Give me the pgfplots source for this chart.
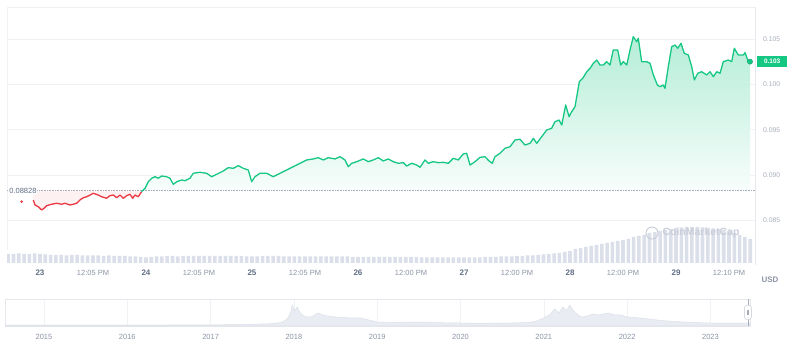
\documentclass[border=0pt]{standalone}
\usepackage{fontspec}
\setmainfont{Liberation Sans}
\usepackage{pgfplots}
\pgfplotsset{compat=1.18}
\usepackage{pgfplotstable}
\definecolor{cmcgreen}{HTML}{16C784}
\definecolor{cmcred}{HTML}{EA3943}
\definecolor{labgray}{HTML}{616E85}
\definecolor{timegray}{HTML}{8C94A5}
\definecolor{ticklight}{HTML}{A6ADBA}
\definecolor{gridc}{HTML}{F1F2F5}
\definecolor{framec}{HTML}{E6E8ED}
\definecolor{volc}{HTML}{DADFE9}
\definecolor{navfill}{HTML}{E9ECF2}
\definecolor{navline}{HTML}{DCE0E8}
\definecolor{wmark}{HTML}{C9CED8}

% price, first part (below the opening price)
\pgfplotstableread{
d v
-0.063 0.08724
-0.047 0.08669
-0.016 0.08650
0.016 0.08614
0.038 0.08632
0.063 0.08661
0.110 0.08677
0.158 0.08688
0.205 0.08677
0.236 0.08688
0.283 0.08669
0.314 0.08677
0.346 0.08688
0.377 0.08724
0.408 0.08749
0.441 0.08760
0.472 0.08779
0.503 0.08798
0.550 0.08779
0.582 0.08760
0.629 0.08743
0.660 0.08772
0.692 0.08779
0.724 0.08749
0.755 0.08779
0.786 0.08743
0.818 0.08772
0.849 0.08787
0.875 0.08743
0.896 0.08779
0.927 0.08760
0.959 0.08816
}\reddata

% price, second part (above the opening price)
\pgfplotstableread{
d v
0.959 0.08816
0.991 0.08853
1.022 0.08926
1.054 0.08964
1.085 0.08981
1.116 0.08964
1.148 0.08989
1.195 0.08981
1.226 0.08964
1.258 0.08897
1.290 0.08926
1.337 0.08945
1.368 0.08937
1.415 0.08964
1.446 0.09019
1.509 0.09030
1.573 0.09019
1.620 0.08981
1.667 0.09008
1.729 0.09044
1.776 0.09081
1.824 0.09074
1.871 0.09103
1.918 0.09074
1.965 0.09055
1.997 0.08926
2.028 0.08981
2.075 0.09019
2.139 0.09019
2.201 0.08981
2.264 0.09019
2.327 0.09055
2.390 0.09092
2.453 0.09129
2.516 0.09166
2.578 0.09177
2.625 0.09191
2.673 0.09166
2.720 0.09191
2.783 0.09177
2.830 0.09202
2.877 0.09166
2.908 0.09092
2.941 0.09129
2.988 0.09147
3.050 0.09177
3.097 0.09147
3.144 0.09166
3.192 0.09191
3.239 0.09155
3.286 0.09177
3.333 0.09147
3.380 0.09129
3.427 0.09136
3.459 0.09099
3.507 0.09129
3.554 0.09110
3.585 0.09085
3.632 0.09166
3.663 0.09129
3.710 0.09147
3.758 0.09136
3.805 0.09140
3.852 0.09129
3.899 0.09184
3.946 0.09166
3.993 0.09232
4.025 0.09240
4.057 0.09110
4.104 0.09147
4.151 0.09195
4.198 0.09202
4.236 0.09155
4.267 0.09129
4.292 0.09202
4.340 0.09240
4.387 0.09295
4.434 0.09312
4.481 0.09386
4.528 0.09394
4.575 0.09331
4.623 0.09350
4.654 0.09405
4.686 0.09350
4.733 0.09423
4.780 0.09497
4.827 0.09515
4.858 0.09588
4.896 0.09607
4.922 0.09552
4.959 0.09773
4.991 0.09644
5.016 0.09699
5.047 0.09754
5.088 0.10030
5.120 0.10067
5.158 0.10140
5.189 0.10178
5.220 0.10233
5.252 0.10269
5.283 0.10214
5.314 0.10214
5.346 0.10251
5.377 0.10214
5.408 0.10380
5.450 0.10380
5.478 0.10214
5.503 0.10251
5.535 0.10214
5.566 0.10380
5.597 0.10527
5.629 0.10471
5.644 0.10509
5.676 0.10251
5.723 0.10251
5.755 0.10233
5.786 0.10104
5.824 0.09993
5.849 0.09975
5.880 0.09993
5.896 0.09957
5.927 0.10195
5.959 0.10416
5.991 0.10435
6.016 0.10399
6.047 0.10454
6.078 0.10343
6.116 0.10325
6.148 0.10195
6.173 0.10049
6.205 0.10123
6.242 0.10140
6.290 0.10104
6.321 0.10140
6.352 0.10085
6.384 0.10140
6.415 0.10123
6.446 0.10251
6.493 0.10269
6.525 0.10251
6.550 0.10399
6.587 0.10325
6.635 0.10325
6.651 0.10350
6.682 0.10251
6.698 0.10251
}\greendata

% volume (relative units)
\pgfplotstableread{
d h
-0.30 9
-0.25 9
-0.20 9.5
-0.15 9
-0.10 9
-0.05 9.5
0.00 9
0.05 8.5
0.10 8
0.15 8
0.20 8
0.25 7.5
0.30 8
0.35 8
0.40 7.5
0.45 7.5
0.50 7.5
0.55 7.5
0.60 7
0.65 7.5
0.70 7
0.75 7
0.80 7
0.85 6.5
0.90 6.5
0.95 6
1.00 5.5
1.05 6
1.10 6.5
1.15 6.5
1.20 7
1.25 7
1.30 6.5
1.35 7
1.40 7
1.45 7
1.50 7
1.55 7
1.60 7
1.65 7
1.70 7
1.75 7
1.80 7
1.85 7
1.90 7
1.95 6.5
2.00 6.5
2.05 6.5
2.10 7
2.15 7
2.20 7
2.25 7
2.30 6.5
2.35 6.5
2.40 6.5
2.45 6.5
2.50 6.5
2.55 6.5
2.60 6.5
2.65 6.5
2.70 6.5
2.75 6.5
2.80 6.5
2.85 6.5
2.90 6.5
2.95 6
3.00 6
3.05 6
3.10 6
3.15 6
3.20 6
3.25 6
3.30 6
3.35 6
3.40 6
3.45 6
3.50 6
3.55 6
3.60 5.5
3.65 5.5
3.70 5.5
3.75 5.5
3.80 5.5
3.85 5.5
3.90 5.5
3.95 5.5
4.00 5.5
4.05 5.5
4.10 5.5
4.15 5.5
4.20 6
4.25 6
4.30 6
4.35 6.5
4.40 6.5
4.45 6.5
4.50 7
4.55 7
4.60 7.5
4.65 7.5
4.70 8
4.75 8.5
4.80 9
4.85 9.5
4.90 10
4.95 11
5.00 12
5.05 14
5.10 15
5.15 16
5.20 17
5.25 18
5.30 19
5.35 20
5.40 21
5.45 22
5.50 23
5.55 24
5.60 26
5.65 27
5.70 28
5.75 30
5.80 31
5.85 32
5.90 33
5.95 34
6.00 35
6.05 35.5
6.10 36
6.15 36
6.20 36
6.25 35.5
6.30 35
6.35 34.5
6.40 34
6.45 33
6.50 32
6.55 30
6.60 28
6.65 26
6.70 24
}\voldata

% long-range navigator (relative units)
\pgfplotstableread{
y h
2014.532 0.8
2015.0 0.8
2015.5 0.9
2016.0 0.9
2016.5 1.0
2017.0 1.1
2017.3 1.4
2017.5 1.8
2017.7 2.2
2017.85 3.5
2017.92 7
2017.96 13
2017.98 21
2018.01 15
2018.04 19
2018.07 14
2018.1 11
2018.15 9
2018.2 9
2018.25 11
2018.29 13
2018.35 11
2018.4 10
2018.5 9
2018.6 8.5
2018.7 8
2018.8 8
2018.9 6
2019.0 4
2019.2 3.5
2019.4 4
2019.6 3.8
2019.8 3.2
2020.0 3
2020.2 2.6
2020.4 2.8
2020.6 3
2020.8 3.5
2020.9 4.5
2021.0 8
2021.08 12
2021.13 17
2021.18 13
2021.23 19
2021.27 15
2021.31 21
2021.36 15
2021.41 11
2021.46 9
2021.52 10
2021.59 12
2021.65 11
2021.71 12
2021.77 13
2021.85 11
2021.92 11
2022.0 9
2022.1 8.5
2022.2 7.5
2022.27 7
2022.4 5.5
2022.5 5
2022.67 4
2022.8 3.5
2023.0 3
2023.2 2.8
2023.475 3
}\navdata

\begin{document}
\begin{tikzpicture}
\path[use as bounding box] (0pt,0pt) rectangle (800pt,353pt);

% volume bars
\begin{axis}[at={(7pt,88pt)}, anchor=south west, scale only axis,
  width=748pt, height=258pt,
  xmin=-0.311, xmax=6.745, ymin=-2, ymax=256, hide axis]
\addplot[ybar, bar width=3.6pt, bar shift=0pt, fill=volc, draw=none] table[x=d,y=h] {\voldata};
\end{axis}

% price chart
\begin{axis}[at={(7pt,88pt)}, anchor=south west, scale only axis,
  width=748pt, height=258pt,
  xmin=-0.311, xmax=6.745, ymin=0.080066, ymax=0.108544,
  clip=false,
  axis line style={draw=none},
  major tick length=0pt,
  /pgf/number format/assume math mode=true,
  scaled y ticks=false,
  ytick={0.085,0.090,0.095,0.100,0.105},
  yticklabel pos=right,
  yticklabel style={anchor=west, inner sep=0pt, xshift=8pt,
    font=\fontsize{6.8}{7}\selectfont, text=ticklight,
    /pgf/number format/fixed, /pgf/number format/precision=3,
    /pgf/number format/fixed zerofill},
  ymajorgrids, grid style={draw=gridc, line width=0.6pt},
  xtick={0,0.5,1,1.5,2,2.5,3,3.5,4,4.5,5,5.5,6,6.5},
  xticklabels={{\fontsize{8}{9}\selectfont\bfseries\color{labgray}23},12:05 PM,
    {\fontsize{8}{9}\selectfont\bfseries\color{labgray}24},12:05 PM,
    {\fontsize{8}{9}\selectfont\bfseries\color{labgray}25},12:05 PM,
    {\fontsize{8}{9}\selectfont\bfseries\color{labgray}26},12:00 PM,
    {\fontsize{8}{9}\selectfont\bfseries\color{labgray}27},12:00 PM,
    {\fontsize{8}{9}\selectfont\bfseries\color{labgray}28},12:00 PM,
    {\fontsize{8}{9}\selectfont\bfseries\color{labgray}29},12:10 PM},
  xticklabel style={anchor=center, inner sep=0pt, yshift=-8pt,
    font=\fontsize{7.5}{8}\selectfont, text=timegray},
]
% frame lines
\draw[framec, line width=0.7pt] (rel axis cs:1,0) -- (rel axis cs:1,1);
\draw[gridc, line width=0.6pt] (rel axis cs:0,0.06) -- (rel axis cs:0,1) -- (rel axis cs:1,1);

% fills
\addplot[draw=none, fill=cmcred, fill opacity=0.07] table[x=d,y=v] {\reddata}
  |- (axis cs:-0.063,0.08828) -- cycle;
\addplot[draw=none, top color=cmcgreen!32, bottom color=cmcgreen!3] table[x=d,y=v] {\greendata}
  |- (axis cs:0.959,0.08828) -- cycle;

% opening price reference line
\addplot[densely dotted, draw=ticklight, line width=0.6pt] coordinates {(-0.311,0.08828) (6.745,0.08828)};
\node[anchor=west, fill=white, inner sep=1pt, font=\fontsize{7.5}{8}\selectfont, text=labgray]
  at (axis cs:-0.30,0.08828) {0.08828};

% price lines
\addplot[cmcred, line width=1.3pt, line join=round] table[x=d,y=v] {\reddata};
\addplot[cmcgreen, line width=1.3pt, line join=round] table[x=d,y=v] {\greendata};
\addplot[only marks, mark=*, mark size=1.1pt, cmcred] coordinates {(-0.173,0.08705)};
\addplot[only marks, mark=*, mark size=2.6pt, cmcgreen, mark options={draw=cmcgreen!80!black}] coordinates {(6.698,0.10251)};

% current price box
\node[anchor=west, fill=cmcgreen, text=white, font=\fontsize{6.5}{7}\selectfont\bfseries,
  minimum width=30pt, minimum height=11pt, inner sep=0pt]
  at (axis cs:6.745,0.10251) [xshift=2pt] {0.103};
\end{axis}

% watermark
\draw[wmark, line width=1pt] (652pt,120pt) circle (6pt);
\node[text=wmark, font=\fontsize{10.5}{12}\selectfont\bfseries, anchor=west] at (659pt,120pt) {CoinMarketCap};

% currency
\node[text=timegray, font=\fontsize{8}{9}\selectfont\bfseries] at (770pt,73pt) {USD};

% navigator
\begin{axis}[at={(5pt,27pt)}, anchor=south west, scale only axis,
  width=745pt, height=27pt,
  xmin=2014.532, xmax=2023.475, ymin=0, ymax=27,
  clip=false,
  axis line style={draw=framec, line width=0.6pt},
  major tick length=0pt,
  ytick=\empty,
  xtick={2015,2016,2017,2018,2019,2020,2021,2022,2023},
  xticklabels={2015,2016,2017,2018,2019,2020,2021,2022,2023},
  xmajorgrids, grid style={draw=gridc, line width=0.6pt},
  xticklabel style={anchor=center, inner sep=0pt, yshift=-11pt,
    font=\fontsize{7.5}{8}\selectfont, text=timegray},
]
\addplot[fill=navfill, draw=navline, line width=0.5pt] table[x=y,y=h] {\navdata} \closedcycle;
\draw[ticklight, line width=0.6pt] (axis cs:2023.45,0) -- (axis cs:2023.45,27);
\node[draw=ticklight!70, fill=white, rounded corners=2.5pt, minimum width=7pt,
  minimum height=14pt, inner sep=0pt] at (axis cs:2023.45,13.5) {};
\draw[ticklight, line width=0.4pt] (axis cs:2023.443,11) -- (axis cs:2023.443,16);
\draw[ticklight, line width=0.4pt] (axis cs:2023.457,11) -- (axis cs:2023.457,16);
\end{axis}
\end{tikzpicture}
\end{document}
